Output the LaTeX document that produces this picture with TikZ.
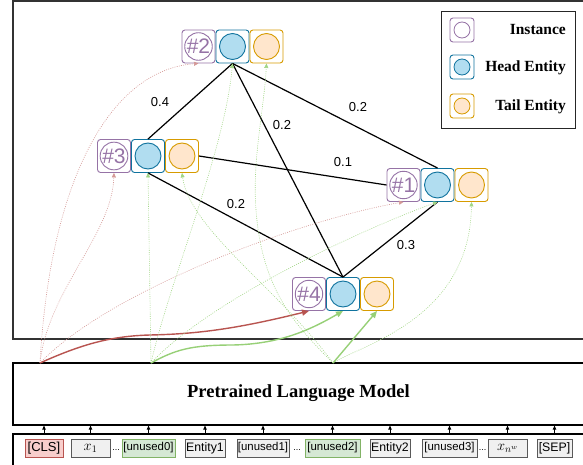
\documentclass[tikz,border=0pt]{standalone}
\usepackage{fontspec}
\setmainfont{Liberation Serif}
\newfontfamily\arialf{Liberation Sans}
\usetikzlibrary{arrows.meta}

\definecolor{instc}{HTML}{9673A6}
\definecolor{headc}{HTML}{10739E}
\definecolor{headf}{HTML}{B1DDF0}
\definecolor{tailc}{HTML}{D79B00}
\definecolor{tailf}{HTML}{FFE6CC}
\definecolor{redc}{HTML}{B85450}
\definecolor{redf}{HTML}{F8CECC}
\definecolor{greenc}{HTML}{82B366}
\definecolor{greenf}{HTML}{D5E8D4}
\definecolor{greenl}{HTML}{97D077}
\definecolor{tokf}{HTML}{F0F0F0}

\tikzset{
  cell/.style={draw, rounded corners=3pt, minimum size=33pt, inner sep=0pt, line width=0.9pt, fill=white},
  instbox/.style={cell, draw=instc},
  headbox/.style={cell, draw=headc},
  tailbox/.style={cell, draw=tailc},
  icirc/.style={circle, draw=instc, line width=0.9pt, minimum size=26pt, inner sep=0pt, text=instc,
    font=\arialf\fontsize{21}{21}\selectfont},
  hcirc/.style={circle, draw=headc, fill=headf, line width=0.9pt, minimum size=26pt, inner sep=0pt},
  tcirc/.style={circle, draw=tailc, fill=tailf, line width=0.9pt, minimum size=26pt, inner sep=0pt},
  relation/.style={draw=black, line width=1.2pt},
  wlabel/.style={font=\arialf\fontsize{13}{13}\selectfont, inner sep=0pt},
  smalltip/.style={-{Triangle[length=4.5pt,width=4pt]}},
  bigtip/.style={-{Triangle[length=7pt,width=6pt]}},
  reddot/.style={smalltip, draw=redc!60, line width=0.6pt, dash pattern=on 0.9pt off 1.3pt},
  greendot/.style={smalltip, draw=greenl!90, line width=0.6pt, dash pattern=on 0.9pt off 1.3pt},
  redsolid/.style={bigtip, draw=redc, line width=1.4pt},
  greensolid/.style={bigtip, draw=greenl, line width=1.4pt},
  frame/.style={draw, line width=1.2pt, inner sep=0pt},
  token/.style={draw=black!65, fill=tokf, line width=0.8pt, minimum height=18pt, inner sep=0pt,
    font=\arialf\fontsize{12.3}{12.3}\selectfont},
  unusedtok/.style={token, font=\arialf\fontsize{11.4}{11.4}\selectfont},
  mathtok/.style={token, font=\fontsize{14}{14}\selectfont},
  tokarrow/.style={-{Triangle[length=4pt,width=3.5pt]}, line width=0.8pt},
  legtext/.style={anchor=east, inner sep=0pt, font=\bfseries\fontsize{15.5}{15.5}\selectfont},
  gap/.style={inner sep=0pt, font=\arialf\fontsize{9}{9}\selectfont}
}

% one instance with its head and tail entity cells
\newcommand\entgroup[3]{%
  \node[instbox] (i#1) at (#2,#3) {};
  \node[icirc] (ic#1) at (i#1) {\##1};
  \node[headbox] (h#1) at (#2+34,#3) {};
  \node[hcirc] (hc#1) at (h#1) {};
  \node[tailbox] (t#1) at (#2+68,#3) {};
  \node[tcirc] (tc#1) at (t#1) {};
}

\begin{document}
\begin{tikzpicture}[x=1pt,y=-1pt]
\useasboundingbox (0,0) rectangle (583,465);
\clip (0,0) rectangle (583,465);

% frames
\node[frame, draw=black!80, minimum width=572pt, minimum height=338pt] (panel) at (299,170) {};
\node[frame, minimum width=572pt, minimum height=62pt] (plm) at (299,394) {};
\node[font=\bfseries\fontsize{18.5}{18.5}\selectfont, inner sep=0pt] (plmtext) at (298.5,393) {Pretrained Language Model};
\node[frame, minimum width=572pt, minimum height=40pt] (strip) at (299,454) {};

% input tokens
\node[token, draw=redc, fill=redf, minimum width=38pt, font=\arialf\fontsize{13}{13}\selectfont] (tcls) at (44,448) {[CLS]};
\node[mathtok, minimum width=39pt] (tx1) at (90.5,448) {$x_1$};
\node[gap] (d1) at (116,450) {...};
\node[unusedtok, draw=greenc, fill=greenf, minimum width=53pt] (tu0) at (148.5,448) {[unused0]};
\node[token, minimum width=40pt] (te1) at (205,448) {Entity1};
\node[unusedtok, minimum width=52pt] (tu1) at (263,448) {[unused1]};
\node[gap] (d2) at (297,450) {...};
\node[unusedtok, draw=greenc, fill=greenf, minimum width=55pt] (tu2) at (332.5,448) {[unused2]};
\node[token, minimum width=40pt] (te2) at (390,448) {Entity2};
\node[unusedtok, minimum width=55pt] (tu3) at (449.5,448) {[unused3]};
\node[gap] (d3) at (482.5,450) {...};
\node[mathtok, minimum width=39pt] (txn) at (507.5,448) {$x_{n^w}$};
\node[token, minimum width=35pt] (tsep) at (554.5,448) {[SEP]};

\foreach \t in {tcls,tx1,tu0,te1,tu1,tu2,te2,tu3,txn,tsep}
  \draw[tokarrow] (\t.north |- strip.north) -- (\t.north |- plm.south);

% instance groups
\entgroup{2}{198.5}{46.5}
\entgroup{3}{114}{156}
\entgroup{1}{403.5}{185}
\entgroup{4}{309}{294}

% relation weights
\draw[relation] (h2.south) -- (h3.north);
\draw[relation] (h2.south) -- (h1.north);
\draw[relation] (h2.south) -- (h4.north);
\draw[relation] (t3.east) -- (i1.west);
\draw[relation] (h3.south) -- (h4.north);
\draw[relation] (h1.south) -- (h4.north);
\node[wlabel] (w1) at (160,102) {0.4};
\node[wlabel] (w2) at (358,107) {0.2};
\node[wlabel] (w3) at (282,125) {0.2};
\node[wlabel] (w4) at (343,162) {0.1};
\node[wlabel] (w5) at (236,204) {0.2};
\node[wlabel] (w6) at (406,245) {0.3};

% sources on the encoder output
\coordinate (sR) at (40,363);
\coordinate (sG) at (151,363);
\coordinate (sT) at (333,363);

% [CLS] to instances
\draw[reddot] (sR) .. controls (50,180) and (110,70) .. (i2.south);
\draw[reddot] (sR) .. controls (48,290) and (112,235) .. (i3.south);
\draw[reddot] (sR) .. controls (110,290) and (300,220) .. (i1.south);
\draw[redsolid] (sR) .. controls (80,345) and (110,336) .. (150,335)
  .. controls (200,334) and (240,328) .. (i4.south);

% head markers to head entities
\draw[greendot] (sG) -- (h3.south);
\draw[greendot] (sG) .. controls (170,280) and (225,150) .. (h2.south);
\draw[greendot] (sG) .. controls (210,300) and (360,230) .. (h1.south);
\draw[greensolid] (sG) .. controls (175,350) and (190,345) .. (233,345)
  .. controls (280,344) and (310,330) .. (h4.south);

% tail markers to tail entities
\draw[greendot] (sT) .. controls (280,290) and (190,230) .. (t3.south);
\draw[greendot] (sT) .. controls (295,325) and (262,290) .. (256,210)
  .. controls (252,160) and (264,110) .. (t2.south);
\draw[greendot] (sT) .. controls (360,345) and (470,320) .. (t1.south);
\draw[greensolid] (sT) -- (t4.south);

% legend
\node[draw=black!85, line width=1pt, minimum width=134pt, minimum height=117pt, inner sep=0pt] (legend) at (508,70.5) {};
\node[cell, minimum size=24pt, draw=instc] (li) at (462,30) {};
\node[circle, draw=instc, line width=0.8pt, minimum size=16pt, inner sep=0pt] (lic) at (li) {};
\node[cell, minimum size=24pt, draw=headc] (lh) at (462,67) {};
\node[hcirc, minimum size=16pt, line width=0.8pt] (lhc) at (lh) {};
\node[cell, minimum size=24pt, draw=tailc] (lt) at (462,106) {};
\node[tcirc, minimum size=16pt, line width=0.8pt] (ltc) at (lt) {};
\node[legtext] (lti) at (566,30) {Instance};
\node[legtext] (lth) at (566,68) {Head Entity};
\node[legtext] (ltt) at (566,107) {Tail Entity};
\end{tikzpicture}
\end{document}
